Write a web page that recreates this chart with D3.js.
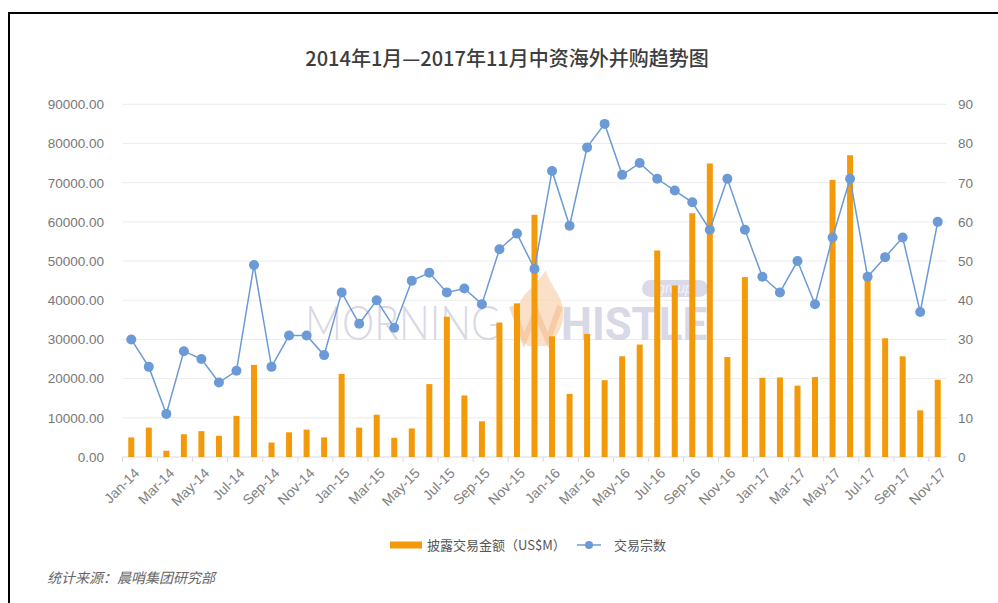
<!DOCTYPE html>
<html><head><meta charset="utf-8">
<script src="https://cdn.jsdelivr.net/npm/d3@7"></script>
<style>
html,body{margin:0;padding:0;background:#fff;}
svg{display:block;}
</style></head>
<body>
<svg id="c" width="998" height="603"></svg>
<script>
const categories = ["Jan-14","Feb-14","Mar-14","Apr-14","May-14","Jun-14","Jul-14","Aug-14","Sep-14","Oct-14","Nov-14","Dec-14",
"Jan-15","Feb-15","Mar-15","Apr-15","May-15","Jun-15","Jul-15","Aug-15","Sep-15","Oct-15","Nov-15","Dec-15",
"Jan-16","Feb-16","Mar-16","Apr-16","May-16","Jun-16","Jul-16","Aug-16","Sep-16","Oct-16","Nov-16","Dec-16",
"Jan-17","Feb-17","Mar-17","Apr-17","May-17","Jun-17","Jul-17","Aug-17","Sep-17","Oct-17","Nov-17"];
const amounts = [5000,7500,1600,5800,6600,5400,10500,23500,3700,6300,7000,5000,
21200,7500,10800,4900,7300,18600,35800,15700,9100,34300,39200,61800,
30800,16100,31400,19600,25700,28700,52700,43800,62200,74900,25500,45900,
20200,20300,18200,20400,70700,77000,45900,30300,25700,11900,19700];
const counts = [30,23,11,27,25,19,22,49,23,31,31,26,
42,34,40,33,45,47,42,43,39,53,57,48,
73,59,79,85,72,75,71,68,65,58,71,58,
46,42,50,39,56,71,46,51,56,37,60];
const leftTicks = [0,10000,20000,30000,40000,50000,60000,70000,80000,90000];
const rightTicks = [0,10,20,30,40,50,60,70,80,90];
const title = "2014年1月—2017年11月中资海外并购趋势图";
const seriesNames = ["披露交易金额（US$M）","交易宗数"];
const source = "统计来源：晨哨集团研究部";

const svg = d3.select("#c");
const L = 122.5, R = 946.5, T = 104.3, B = 457;
const x = d3.scaleBand().domain(categories).range([L, R]).padding(0);
const yL = d3.scaleLinear().domain([0, 90000]).range([B, T]);
const yR = d3.scaleLinear().domain([0, 90]).range([B, T]);
const orange = "#f39a0b", blue = "#6b9ad6";
const numFont = "'Liberation Sans', Arial, sans-serif";
const cjk = "'Noto Sans CJK SC', sans-serif";

// frame
svg.append("line").attr("x1",8).attr("x2",998).attr("y1",13).attr("y2",13).attr("stroke","#000").attr("stroke-width",2);
svg.append("line").attr("x1",9).attr("x2",9).attr("y1",12).attr("y2",603).attr("stroke","#000").attr("stroke-width",2);

// title
svg.append("text").attr("x",507).attr("y",66).attr("text-anchor","middle")
  .attr("font-family",cjk).attr("font-size",20).attr("font-weight",500).attr("fill","#3d3d3d").text(title);

// gridlines
svg.append("g").selectAll("line").data(leftTicks.slice(1)).join("line")
  .attr("x1",L).attr("x2",R).attr("y1",d=>yL(d)).attr("y2",d=>yL(d))
  .attr("stroke","#ececec").attr("stroke-width",1);

// watermark
const wm = svg.append("g");
wm.append("text").attr("x",305).attr("y",340).attr("font-family","Lato, 'Open Sans', sans-serif").attr("font-weight",300)
  .attr("font-size",47).attr("fill","#d8d8e6").attr("textLength",196).attr("lengthAdjust","spacingAndGlyphs").text("MORNING");
wm.append("path").attr("d","M528,346 C510,330 514,306 527,292 C534,285 540,279 546,270 C549,285 561,293 563,309 C565,326 556,339 546,346 Z")
  .attr("fill","#f9d3b0").attr("opacity",0.7);
wm.append("path").attr("d","M512,306 L524,340 L536,312 L548,340 L560,306")
  .attr("fill","none").attr("stroke","#f2b98a").attr("stroke-width",6).attr("opacity",0.55);
wm.append("text").attr("x",561).attr("y",340).attr("font-family","Roboto, sans-serif").attr("font-weight","bold")
  .attr("font-size",47).attr("fill","#d8d8e6").attr("textLength",146).attr("lengthAdjust","spacingAndGlyphs").text("HISTLE");
wm.append("rect").attr("x",642).attr("y",280).attr("width",66).attr("height",17).attr("rx",8.5).attr("fill","#dadae8");
wm.append("text").attr("x",675).attr("y",293).attr("text-anchor","middle").attr("font-family",numFont).attr("font-style","italic")
  .attr("font-size",14).attr("fill","#f4f4f9").text("group");

// axis baseline and ticks
svg.append("line").attr("x1",L).attr("x2",R).attr("y1",B).attr("y2",B).attr("stroke","#d9d9d9");
const tickIdx = categories.map((c,i)=>i).filter(i=>i%2===0);
svg.append("g").selectAll("line").data(tickIdx).join("line")
  .attr("x1",i=>x(categories[i])).attr("x2",i=>x(categories[i]))
  .attr("y1",B).attr("y2",B+5).attr("stroke","#d9d9d9");

// left labels
svg.append("g").selectAll("text").data(leftTicks).join("text")
  .attr("x",104).attr("y",d=>yL(d)).attr("dy","0.36em").attr("text-anchor","end")
  .attr("font-family",numFont).attr("font-size",13.5).attr("fill","#777").text(d=>d.toFixed(2));
// right labels
svg.append("g").selectAll("text").data(rightTicks).join("text")
  .attr("x",958).attr("y",d=>yR(d)).attr("dy","0.36em").attr("text-anchor","start")
  .attr("font-family",numFont).attr("font-size",13.5).attr("fill","#777").text(d=>d);

// x labels
svg.append("g").selectAll("text").data(tickIdx).join("text")
  .attr("transform",i=>`translate(${x(categories[i])+x.bandwidth()/2+3},${B+11}) rotate(-45)`)
  .attr("text-anchor","end").attr("dy","0.6em")
  .attr("font-family",numFont).attr("font-size",14).attr("fill","#808080").text(i=>categories[i]);

// bars
const bw = 6;
svg.append("g").selectAll("rect").data(amounts).join("rect")
  .attr("x",(d,i)=>x(categories[i])+x.bandwidth()/2-bw/2).attr("width",bw)
  .attr("y",d=>yL(d)).attr("height",d=>B-yL(d)).attr("fill",orange);

// line
const line = d3.line().x((d,i)=>x(categories[i])+x.bandwidth()/2).y(d=>yR(d));
svg.append("path").datum(counts).attr("d",line).attr("fill","none").attr("stroke",blue).attr("stroke-width",1.5);
svg.append("g").selectAll("circle").data(counts).join("circle")
  .attr("cx",(d,i)=>x(categories[i])+x.bandwidth()/2).attr("cy",d=>yR(d)).attr("r",5).attr("fill",blue);

// legend
const lg = svg.append("g");
lg.append("rect").attr("x",390).attr("y",541.5).attr("width",32).attr("height",7).attr("fill",orange);
lg.append("text").attr("x",427).attr("y",545).attr("dy","0.36em").attr("font-family",cjk).attr("font-size",13).attr("fill","#555").text(seriesNames[0]);
lg.append("line").attr("x1",577).attr("x2",601).attr("y1",545).attr("y2",545).attr("stroke",blue).attr("stroke-width",1.5);
lg.append("circle").attr("cx",589).attr("cy",545).attr("r",4).attr("fill",blue);
lg.append("text").attr("x",614).attr("y",545).attr("dy","0.36em").attr("font-family",cjk).attr("font-size",13).attr("fill","#555").text(seriesNames[1]);

// source
svg.append("text").attr("x",47).attr("y",583).attr("font-family",cjk).attr("font-size",14).attr("font-style","italic")
  .attr("fill","#666").text(source);
</script>
</body></html>
